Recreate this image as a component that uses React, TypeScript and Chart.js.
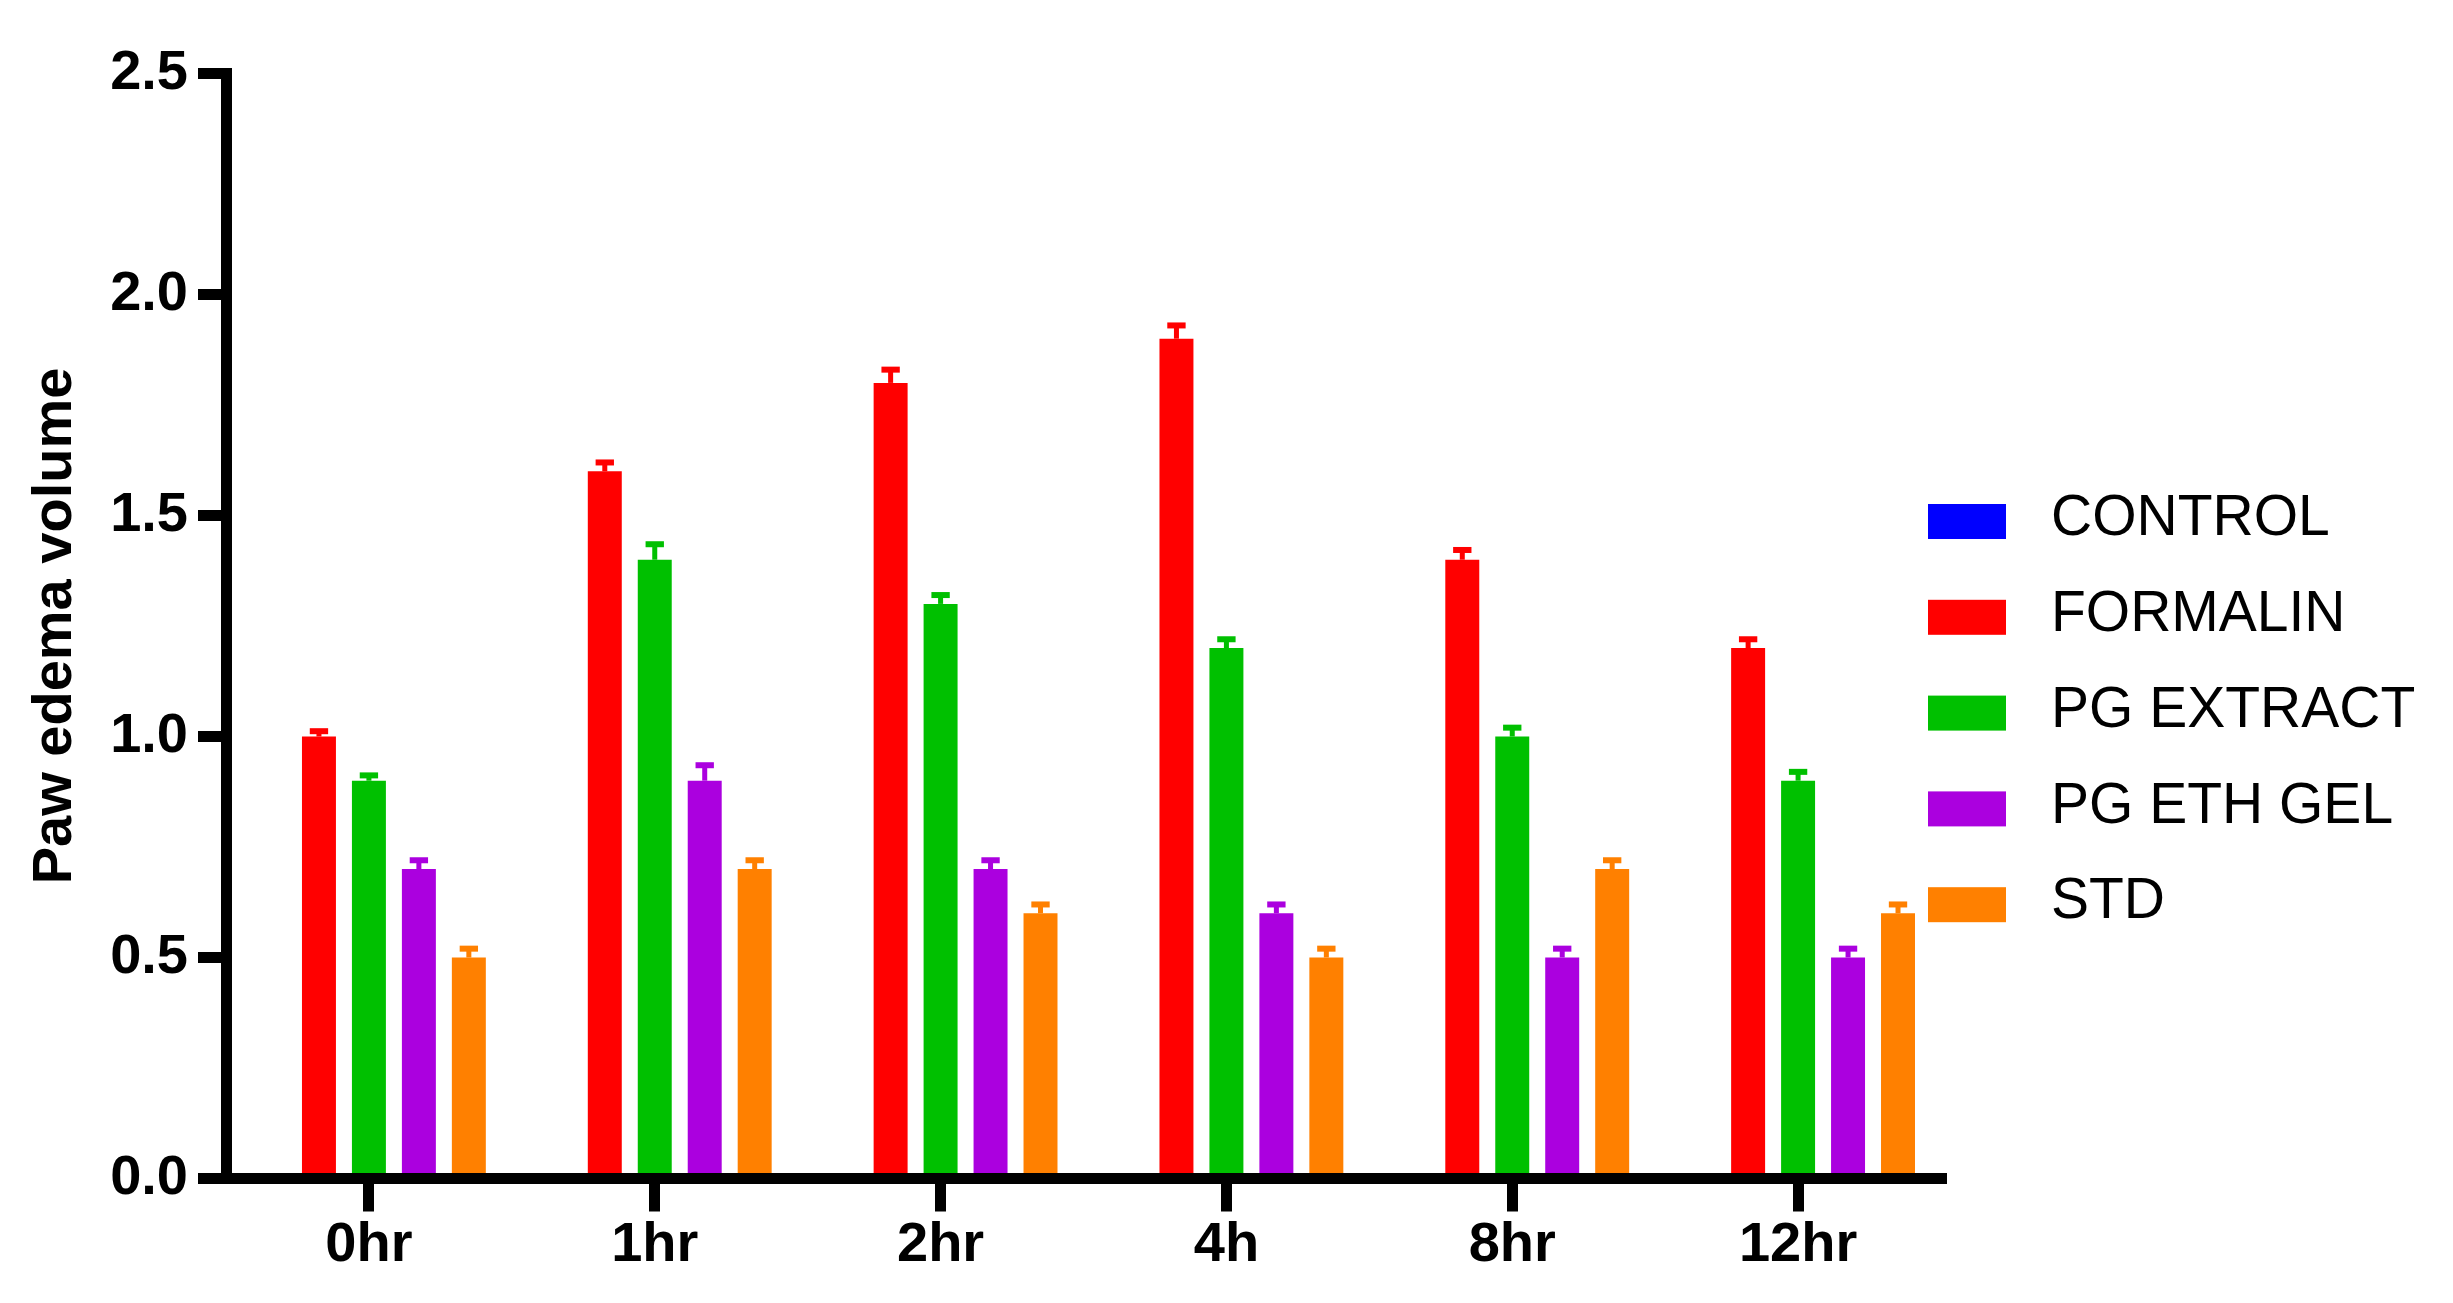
import React, { useEffect, useRef } from "react";
import { Chart, registerables } from "chart.js";

Chart.register(...registerables);

// ---- data ----
const categories = ["0hr", "1hr", "2hr", "4h", "8hr", "12hr"];
const seriesNames = ["CONTROL", "FORMALIN", "PG EXTRACT", "PG ETH GEL", "STD"];
const seriesColors = ["#0000FF", "#FF0000", "#00C000", "#AB00DF", "#FF8000"];

const controlValues = [0, 0, 0, 0, 0, 0];
const formalinValues = [1.0, 1.6, 1.8, 1.9, 1.4, 1.2];
const pgExtractValues = [0.9, 1.4, 1.3, 1.2, 1.0, 0.9];
const pgEthGelValues = [0.7, 0.9, 0.7, 0.6, 0.5, 0.5];
const stdValues = [0.5, 0.7, 0.6, 0.5, 0.7, 0.6];

const controlErrors = [0, 0, 0, 0, 0, 0];
const formalinErrors = [0.012, 0.02, 0.03, 0.03, 0.022, 0.02];
const pgExtractErrors = [0.012, 0.035, 0.02, 0.02, 0.02, 0.02];
const pgEthGelErrors = [0.02, 0.035, 0.02, 0.02, 0.02, 0.02];
const stdErrors = [0.02, 0.02, 0.02, 0.02, 0.02, 0.02];

const yTicks = [0, 0.5, 1.0, 1.5, 2.0, 2.5];
const yTitle = "Paw edema volume";

const allValues = [controlValues, formalinValues, pgExtractValues, pgEthGelValues, stdValues];
const allErrors = [controlErrors, formalinErrors, pgExtractErrors, pgEthGelErrors, stdErrors];

// ---- layout / style constants ----
const W = 2453;
const H = 1303;
const FONT = "'Liberation Sans', Arial, Helvetica, sans-serif";

const errorBarPlugin = {
  id: "errorBars",
  afterDatasetsDraw(chart: any) {
    const ctx = chart.ctx;
    const yScale = chart.scales.y;
    chart.data.datasets.forEach((ds: any, i: number) => {
      const meta = chart.getDatasetMeta(i);
      const errs = allErrors[i];
      meta.data.forEach((el: any, j: number) => {
        const v = ds.data[j];
        const e = errs[j];
        if (!v || !e) return;
        const { x, y, width } = el.getProps(["x", "y", "width"], true);
        const yErr = yScale.getPixelForValue(v + e);
        ctx.save();
        ctx.fillStyle = ds.backgroundColor;
        const stemW = 5;
        const capW = width * 0.54;
        const capH = 6;
        ctx.fillRect(x - stemW / 2, yErr, stemW, y - yErr);
        ctx.fillRect(x - capW / 2, yErr - capH / 2, capW, capH);
        ctx.restore();
      });
    });
  },
};

const legendPlugin = {
  id: "customLegend",
  afterDraw(chart: any) {
    const ctx = chart.ctx;
    const boxX = 1928;
    const top = 504;
    const rowH = 95.8;
    const boxW = 78;
    const boxH = 35;
    const textX = 2051;
    ctx.save();
    ctx.font = `normal 57px ${FONT}`;
    ctx.textBaseline = "middle";
    ctx.textAlign = "left";
    seriesNames.forEach((name, i) => {
      const y = top + i * rowH;
      ctx.fillStyle = seriesColors[i];
      ctx.fillRect(boxX, y, boxW, boxH);
      ctx.fillStyle = "#000";
      ctx.fillText(name, textX, y + boxH / 2 - 2);
    });
    ctx.restore();
  },
};

export default function App() {
  const canvasRef = useRef<HTMLCanvasElement | null>(null);

  useEffect(() => {
    const canvas = canvasRef.current;
    if (!canvas) return;
    const chart = new Chart(canvas, {
      type: "bar",
      data: {
        labels: categories,
        datasets: seriesNames.map((name, i) => ({
          label: name,
          data: allValues[i],
          backgroundColor: seriesColors[i],
          borderWidth: 0,
          categoryPercentage: 0.874,
          barPercentage: 0.68,
        })),
      },
      options: {
        responsive: false,
        maintainAspectRatio: false,
        devicePixelRatio: 1,
        animation: false,
        events: [],
        layout: { padding: { left: 22, right: 512, top: 73.5, bottom: 0 } },
        plugins: {
          legend: { display: false },
          tooltip: { enabled: false },
          title: { display: false },
        },
        scales: {
          x: {
            offset: true,
            grid: {
              offset: false,
              display: true,
              drawOnChartArea: false,
              drawTicks: true,
              tickLength: 33,
              tickWidth: 11,
              tickColor: "#000",
              lineWidth: 11,
              color: "#000",
            },
            border: { display: true, width: 11, color: "#000" },
            ticks: {
              color: "#000",
              padding: 0,
              maxRotation: 0,
              font: { family: FONT, size: 56, weight: "bold" },
            },
            afterFit: (scale: any) => {
              scale.height = 124.5;
            },
          },
          y: {
            min: 0,
            max: 2.5,
            grid: {
              display: true,
              drawOnChartArea: false,
              drawTicks: true,
              tickLength: 28,
              tickWidth: 11,
              tickColor: "#000",
              lineWidth: 11,
              color: "#000",
            },
            border: { display: true, width: 11, color: "#000" },
            afterBuildTicks: (scale: any) => {
              scale.ticks = yTicks.map((v) => ({ value: v }));
            },
            ticks: {
              color: "#000",
              padding: 10,
              font: { family: FONT, size: 56, weight: "bold" },
              callback: (v: any) => Number(v).toFixed(1),
            },
            title: {
              display: true,
              text: yTitle,
              color: "#000",
              padding: { top: 0, bottom: 0 },
              font: { family: FONT, size: 56, weight: "bold" },
            },
            afterFit: (scale: any) => {
              scale.width = 204;
            },
          },
        },
      },
      plugins: [errorBarPlugin, legendPlugin],
    } as any);
    return () => chart.destroy();
  }, []);

  return (
    <div style={{ position: "fixed", left: 0, top: 0, width: W, height: H, background: "#fff" }}>
      <canvas ref={canvasRef} width={W} height={H} style={{ display: "block", width: W, height: H }} />
    </div>
  );
}
